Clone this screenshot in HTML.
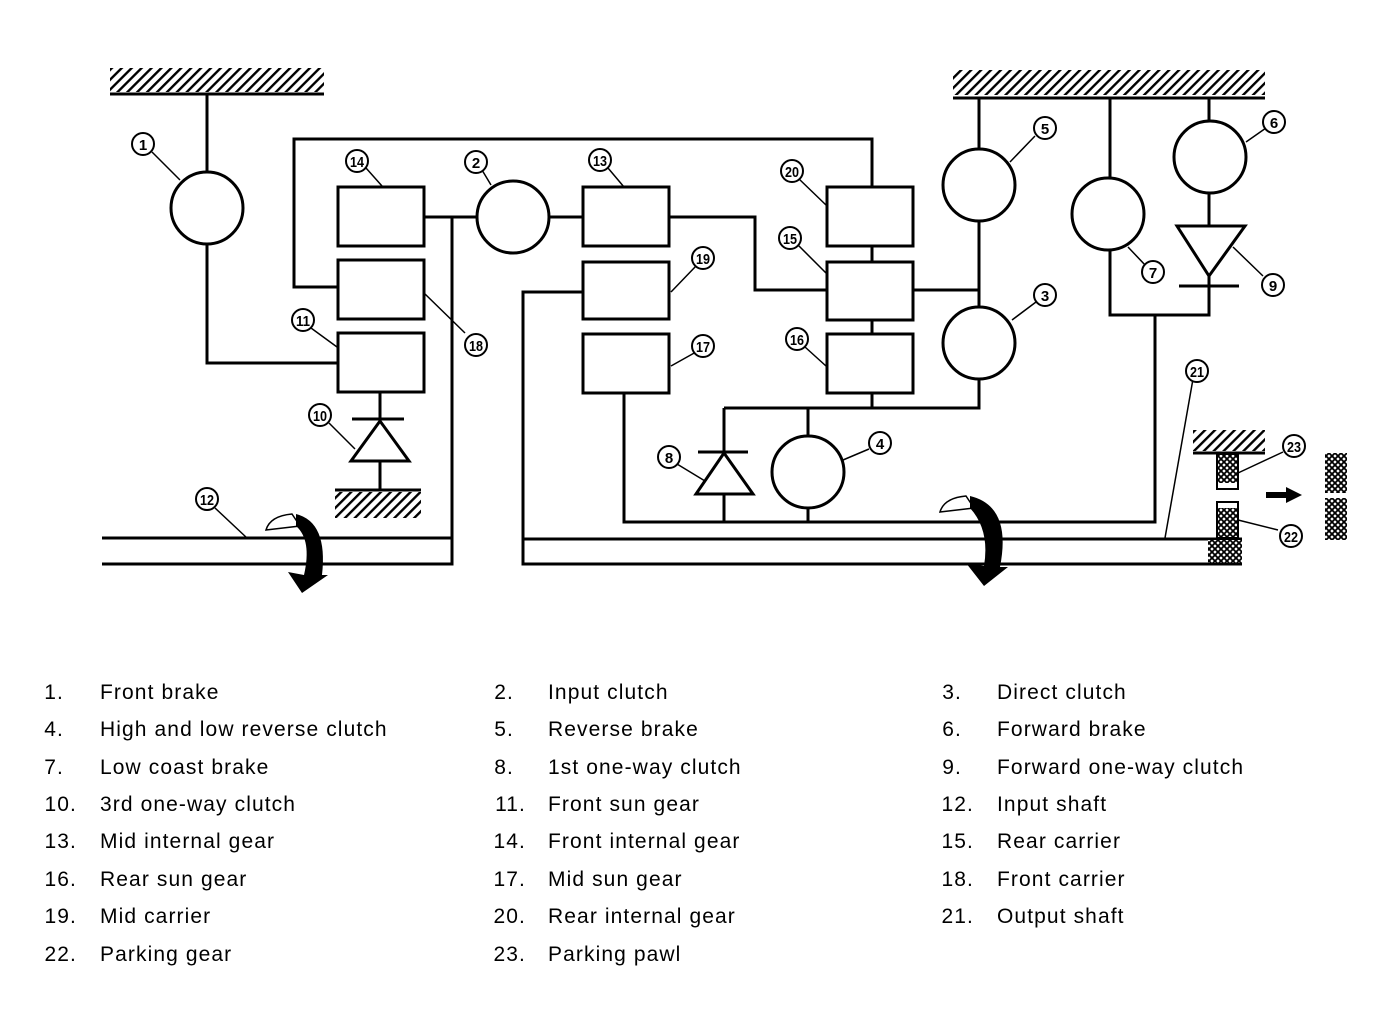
<!DOCTYPE html>
<html><head><meta charset="utf-8"><style>
body{margin:0;background:#fff;}
svg{display:block}
.l{font-family:"Liberation Sans",sans-serif;font-size:21px;letter-spacing:1.1px;fill:#000}
.n{font-family:"Liberation Sans",sans-serif;font-size:15px;font-weight:bold;fill:#000}
</style></head><body>
<svg width="1392" height="1012" viewBox="0 0 1392 1012" xmlns="http://www.w3.org/2000/svg">
<defs>
<pattern id="h" patternUnits="userSpaceOnUse" width="7" height="7" patternTransform="rotate(45)">
<rect width="7" height="7" fill="#fff"/><rect x="0" y="0" width="2.4" height="7" fill="#000"/></pattern>
<pattern id="x" patternUnits="userSpaceOnUse" width="6" height="6">
<rect width="6" height="6" fill="#fff"/><path d="M0 0L6 6M6 0L0 6" stroke="#000" stroke-width="1.8"/></pattern>
</defs>
<g stroke="#000" stroke-width="3" fill="none">
<rect x="110" y="68" width="214" height="24" fill="url(#h)" stroke="none"/>
<line x1="110" y1="94" x2="324" y2="94"/>
<path d="M207 94V172M207 244V363H338"/>
<circle cx="207" cy="208" r="36" fill="#fff"/>
<path d="M338 287H294V139H872V187"/>
<rect x="338" y="187" width="86" height="59"/>
<rect x="338" y="260" width="86" height="59"/>
<rect x="338" y="333" width="86" height="59"/>
<path d="M380 392V420M352 419H404M380 461V490"/>
<path d="M380 421L351 461H409Z"/>
<rect x="335" y="492" width="86" height="26" fill="url(#h)" stroke="none"/>
<line x1="335" y1="490" x2="421" y2="490"/>
<path d="M424 217H477M452 217V564H102M102 538H452"/>
<circle cx="513" cy="217" r="36"/>
<path d="M549 217H583"/>
<rect x="583" y="187" width="86" height="59"/>
<rect x="583" y="262" width="86" height="57"/>
<rect x="583" y="334" width="86" height="59"/>
<path d="M669 217H755V290H827"/>
<rect x="827" y="187" width="86" height="59"/>
<rect x="827" y="262" width="86" height="58"/>
<rect x="827" y="334" width="86" height="59"/>
<path d="M872 246V262M872 320V334M872 393V408M913 290H979"/>
<path d="M583 292H523V564H1242M523 539H1242"/>
<path d="M624 393V522H1155V315"/>
<path d="M724 408H979V378M724 408V452M698 452H748M724 494V522"/>
<path d="M724 453L696 494H753Z"/>
<circle cx="808" cy="472" r="36"/>
<path d="M808 408V436M808 508V522"/>
<rect x="953" y="70" width="312" height="25" fill="url(#h)" stroke="none"/>
<line x1="953" y1="98" x2="1265" y2="98"/>
<path d="M979 98V149M979 221V307"/>
<circle cx="979" cy="185" r="36"/>
<circle cx="979" cy="343" r="36"/>
<path d="M1110 98V178M1110 250V315H1209V276M1209 98V121M1209 193V226M1179 286H1239"/>
<circle cx="1108" cy="214" r="36"/>
<circle cx="1210" cy="157" r="36"/>
<path d="M1177 226H1245L1209 276Z"/>
<rect x="1193" y="430" width="72" height="21" fill="url(#h)" stroke="none"/>
<line x1="1193" y1="453" x2="1265" y2="453"/>
<rect x="1217" y="454" width="21" height="29" fill="url(#x)" stroke="none"/>
<rect x="1217" y="454" width="21" height="35" stroke-width="2"/>
<rect x="1217" y="508" width="21" height="30" fill="url(#x)" stroke="none"/>
<rect x="1217" y="502" width="21" height="36" stroke-width="2"/>
<rect x="1208" y="540" width="34" height="23" fill="url(#x)" stroke="none"/>
<rect x="1325" y="453" width="22" height="40" fill="url(#x)" stroke="none"/>
<rect x="1325" y="498" width="22" height="42" fill="url(#x)" stroke="none"/>
<path d="M1266 495H1288" stroke-width="6"/>
<path d="M1286 487L1302 495L1286 503Z" fill="#000" stroke="none"/>
<g stroke-width="1.5">
<path d="M152 152L180 180M366 168L382 186M311 328L337 347M425 294L465 333M329 423L355 449M215 508L247 538M482 170L491 185M608 168L624 187M798 178L826 205M798 245L826 273M805 347L826 366M671 292L696 266M671 366L696 352M677 464L705 481M843 460L869 449M1010 162L1035 136M1012 320L1036 302M1128 247L1146 266M1233 247L1263 276M1246 142L1266 128M1193 379L1165 538M1238 473L1283 452M1238 520L1278 530"/>
</g>
</g>
<g>
<path d="M266 530 Q270 516 292 514 L300 526 Z" fill="#fff" stroke="#000" stroke-width="1.5"/>
<path d="M296 514 Q328 522 322 575 L328 575 L302 593 L288 572 L304 575 Q312 540 296 526 Z" fill="#000"/>
<path d="M940 512 Q944 498 966 496 L974 508 Z" fill="#fff" stroke="#000" stroke-width="1.5"/>
<path d="M970 496 Q1012 506 1000 567 L1008 567 L984 586 L966 563 L984 566 Q990 530 970 508 Z" fill="#000"/>
</g>
<g fill="#fff" stroke="#000" stroke-width="2">
<circle cx="143" cy="144" r="11"/><circle cx="357" cy="161" r="11"/><circle cx="303" cy="320" r="11"/>
<circle cx="476" cy="345" r="11"/><circle cx="320" cy="415" r="11"/><circle cx="207" cy="499" r="11"/>
<circle cx="476" cy="162" r="11"/><circle cx="600" cy="160" r="11"/><circle cx="792" cy="171" r="11"/>
<circle cx="790" cy="238" r="11"/><circle cx="797" cy="339" r="11"/><circle cx="703" cy="258" r="11"/>
<circle cx="703" cy="346" r="11"/><circle cx="669" cy="457" r="11"/><circle cx="880" cy="443" r="11"/>
<circle cx="1045" cy="128" r="11"/><circle cx="1045" cy="295" r="11"/><circle cx="1153" cy="272" r="11"/>
<circle cx="1274" cy="122" r="11"/><circle cx="1273" cy="285" r="11"/><circle cx="1197" cy="371" r="11"/>
<circle cx="1294" cy="446" r="11"/><circle cx="1291" cy="536" r="11"/>
</g>
<g class="n" text-anchor="middle">
<text x="143" y="150">1</text><text x="357" y="167" textLength="14" lengthAdjust="spacingAndGlyphs">14</text>
<text x="303" y="326" textLength="14" lengthAdjust="spacingAndGlyphs">11</text><text x="476" y="351" textLength="14" lengthAdjust="spacingAndGlyphs">18</text>
<text x="320" y="421" textLength="14" lengthAdjust="spacingAndGlyphs">10</text><text x="207" y="505" textLength="14" lengthAdjust="spacingAndGlyphs">12</text>
<text x="476" y="168">2</text><text x="600" y="166" textLength="14" lengthAdjust="spacingAndGlyphs">13</text>
<text x="792" y="177" textLength="14" lengthAdjust="spacingAndGlyphs">20</text><text x="790" y="244" textLength="14" lengthAdjust="spacingAndGlyphs">15</text>
<text x="797" y="345" textLength="14" lengthAdjust="spacingAndGlyphs">16</text><text x="703" y="264" textLength="14" lengthAdjust="spacingAndGlyphs">19</text>
<text x="703" y="352" textLength="14" lengthAdjust="spacingAndGlyphs">17</text><text x="669" y="463">8</text>
<text x="880" y="449">4</text><text x="1045" y="134">5</text><text x="1045" y="301">3</text>
<text x="1153" y="278">7</text><text x="1274" y="128">6</text><text x="1273" y="291">9</text>
<text x="1197" y="377" textLength="14" lengthAdjust="spacingAndGlyphs">21</text>
<text x="1294" y="452" textLength="14" lengthAdjust="spacingAndGlyphs">23</text>
<text x="1291" y="542" textLength="14" lengthAdjust="spacingAndGlyphs">22</text>
</g>
<g class="l">
<g text-anchor="end">
<text x="64" y="699">1.</text><text x="64" y="736">4.</text><text x="64" y="774">7.</text><text x="77" y="811">10.</text>
<text x="77" y="848">13.</text><text x="77" y="886">16.</text><text x="77" y="923">19.</text><text x="77" y="961">22.</text>
<text x="514" y="699">2.</text><text x="514" y="736">5.</text><text x="514" y="774">8.</text><text x="526" y="811">11.</text>
<text x="526" y="848">14.</text><text x="526" y="886">17.</text><text x="526" y="923">20.</text><text x="526" y="961">23.</text>
<text x="962" y="699">3.</text><text x="962" y="736">6.</text><text x="962" y="774">9.</text><text x="974" y="811">12.</text>
<text x="974" y="848">15.</text><text x="974" y="886">18.</text><text x="974" y="923">21.</text>
</g>
<text x="100" y="699">Front brake</text><text x="100" y="736">High and low reverse clutch</text>
<text x="100" y="774">Low coast brake</text><text x="100" y="811">3rd one-way clutch</text>
<text x="100" y="848">Mid internal gear</text><text x="100" y="886">Rear sun gear</text>
<text x="100" y="923">Mid carrier</text><text x="100" y="961">Parking gear</text>
<text x="548" y="699">Input clutch</text><text x="548" y="736">Reverse brake</text>
<text x="548" y="774">1st one-way clutch</text><text x="548" y="811">Front sun gear</text>
<text x="548" y="848">Front internal gear</text><text x="548" y="886">Mid sun gear</text>
<text x="548" y="923">Rear internal gear</text><text x="548" y="961">Parking pawl</text>
<text x="997" y="699">Direct clutch</text><text x="997" y="736">Forward brake</text>
<text x="997" y="774">Forward one-way clutch</text><text x="997" y="811">Input shaft</text>
<text x="997" y="848">Rear carrier</text><text x="997" y="886">Front carrier</text>
<text x="997" y="923">Output shaft</text>
</g>
</svg>
</body></html>
